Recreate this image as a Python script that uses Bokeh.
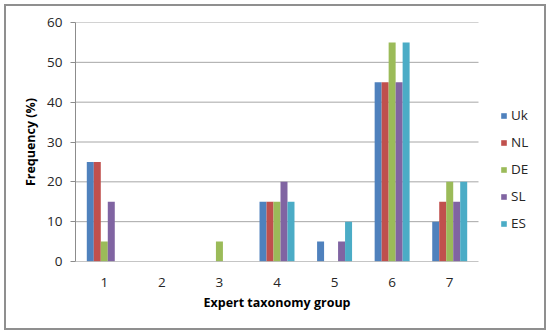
from bokeh.plotting import figure
from bokeh.models import ColumnDataSource, Range1d, Legend, LegendItem, FixedTicker, Title
from bokeh.transform import dodge
from bokeh.embed import file_html
from bokeh.resources import INLINE

groups = [1, 2, 3, 4, 5, 6, 7]
series_names = ["Uk", "NL", "DE", "SL", "ES"]
uk = [25, 0, 0, 15, 5, 45, 10]
nl = [25, 0, 0, 15, 0, 45, 15]
de = [5, 0, 5, 15, 0, 55, 20]
sl = [15, 0, 0, 20, 5, 45, 15]
es = [0, 0, 0, 15, 10, 55, 20]
colors = ["#4F81BD", "#C0504D", "#9BBB59", "#8064A2", "#4BACC6"]
y_ticks = [0, 10, 20, 30, 40, 50, 60]
x_title = "Expert taxonomy group"
y_title = "Frequency (%)"

FONT = "Open Sans"
AX = "#8c8c8c"
src = ColumnDataSource(dict(x=groups, Uk=uk, NL=nl, DE=de, SL=sl, ES=es))

W, H = 542, 326
BL, BR, BT, BB = 69, 6, 16, 71
px_per_unit = 403 / 7
x_start = groups[0] - 0.5
x_end = x_start + (W - BL - BR) / px_per_unit
data_end = groups[-1] + 0.5

p = figure(width=W, height=H, output_backend="svg", toolbar_location=None,
           x_range=Range1d(x_start, x_end), y_range=Range1d(0, 60),
           min_border_left=BL, min_border_right=BR, min_border_top=BT, min_border_bottom=BB,
           margin=(4, 0, 0, 4),
           styles={"border": "2px solid #8f8f8f", "box-sizing": "border-box"})
p.outline_line_color = None
p.background_fill_color = "white"

# horizontal gridlines limited to the data area
p.segment(x0=x_start, x1=data_end, y0=y_ticks[1:], y1=y_ticks[1:],
          line_color="#a6a6a6", line_width=1)

w = 0.1215
renderers = []
for i, (name, c) in enumerate(zip(series_names, colors)):
    r = p.vbar(x=dodge("x", (i - 2) * w, range=p.x_range), top=name, width=w,
               source=src, fill_color=c, line_color=None)
    renderers.append(r)

# x axis baseline
p.segment(x0=x_start, x1=data_end, y0=0, y1=0, line_color=AX, line_width=1)

p.xgrid.grid_line_color = None
p.ygrid.grid_line_color = None

p.yaxis.ticker = FixedTicker(ticks=y_ticks)
p.xaxis.ticker = FixedTicker(ticks=groups)
for ax in (p.xaxis[0], p.yaxis[0]):
    ax.axis_line_color = AX
    ax.major_label_text_font = FONT
    ax.major_label_text_font_size = "13.5px"
    ax.major_label_text_color = "#262626"
    ax.axis_label_text_font = FONT
    ax.axis_label_text_font_size = "12.5px"
    ax.axis_label_text_font_style = "bold"
    ax.axis_label_text_color = "#000000"
    ax.minor_tick_line_color = None

p.xaxis.axis_line_color = None
p.xaxis.major_tick_line_color = None
p.xaxis.major_label_standoff = 10

p.yaxis.major_tick_line_color = AX
p.yaxis.major_tick_out = 5
p.yaxis.major_tick_in = 0
p.yaxis.major_label_standoff = 8
p.yaxis.axis_label = y_title
p.yaxis.axis_label_standoff = 5

xt = Title(text=x_title, align="left", offset=128, standoff=5,
           text_font=FONT, text_font_size="12.5px", text_font_style="bold",
           text_color="#000000")
p.add_layout(xt, "below")

legend = Legend(items=[LegendItem(label=n, renderers=[r]) for n, r in zip(series_names, renderers)],
                location=(425, 28), padding=0, spacing=7, label_height=20, margin=0,
                glyph_width=7, glyph_height=7, label_standoff=4,
                label_text_font=FONT, label_text_font_size="13.5px",
                label_text_color="#262626",
                border_line_color=None, background_fill_alpha=0)
p.add_layout(legend, "center")

open("out.html", "w").write(file_html(p, INLINE))
